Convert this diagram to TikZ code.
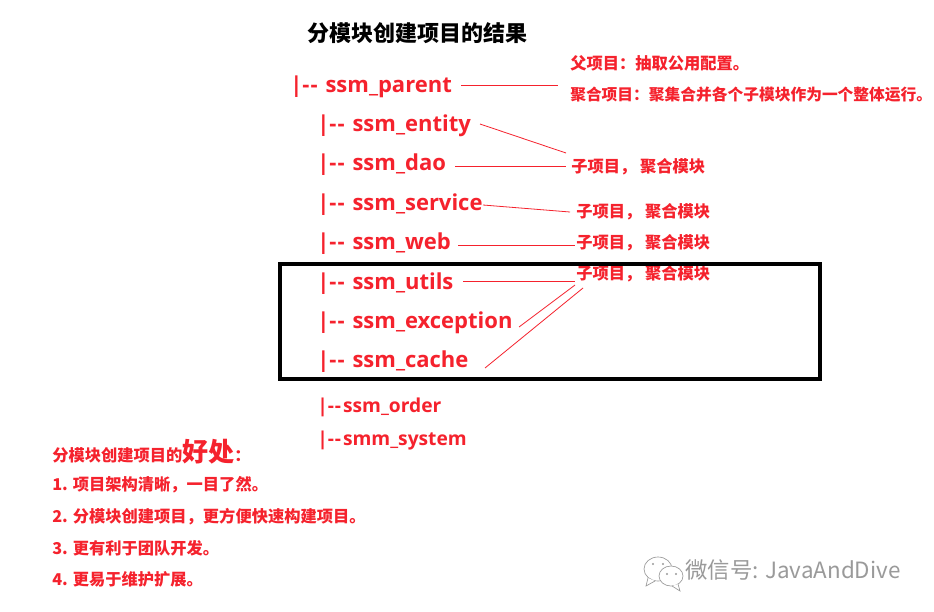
\documentclass[tikz,border=0pt]{standalone}
\usepackage{fontspec}
\setmainfont{Noto Sans}
\newfontfamily\cjk{Noto Sans CJK SC}[Ligatures=NoCommon]
\newfontfamily\tree{Open Sans}
\definecolor{redtxt}{HTML}{F5222D}
\definecolor{wm}{HTML}{9A9A9A}
\newcommand{\dd}{-\kern0.05em-\kern0.1em}
\tikzset{
  treeA/.style={anchor=west,inner sep=0pt,text=redtxt,font=\tree\fontsize{16.5}{20}\selectfont\bfseries},
  treeB/.style={anchor=west,inner sep=0pt,text=redtxt,font=\tree\fontsize{14.4}{18}\selectfont\bfseries},
  note/.style={anchor=west,inner sep=0pt,text=redtxt,font=\cjk\fontsize{12.2}{14}\selectfont\bfseries},
  heading/.style={anchor=west,inner sep=0pt,text=black,font=\cjk\fontsize{16.5}{20}\selectfont\bfseries},
  link/.style={draw=redtxt,line width=0.6pt},
  frame/.style={draw=black,line width=3.2pt},
  wmline/.style={draw=wm,line width=0.5pt,fill=white}
}
\begin{document}
\begin{tikzpicture}[x=0.75pt,y=-0.75pt]
\useasboundingbox (0,0) rectangle (934,611);
\fill[white] (0,0) rectangle (934,611);
\node[heading] (title) at (307,33) {分模块创建项目的结果};
\node[treeA] (parent) at (290,87) {|\dd\ ssm\_parent};
\node[treeA] (entity) at (317,126) {|\dd\ ssm\_entity};
\node[treeA] (dao) at (317,165) {|\dd\ ssm\_dao};
\node[treeA] (service) at (317,205) {|\dd\ ssm\_service};
\node[treeA] (web) at (317,244) {|\dd\ ssm\_web};
\node[treeA] (utils) at (317,284) {|\dd\ ssm\_utils};
\node[treeA] (exception) at (317,323) {|\dd\ ssm\_exception};
\node[treeA] (cache) at (317,362) {|\dd\ ssm\_cache};
\node[treeB] (order) at (317,407) {|\dd ssm\_order};
\node[treeB] (system) at (317,441) {|\dd smm\_system};
\node[note] (fa) at (570,63) {父项目：抽取公用配置。};
\node[note,font=\cjk\fontsize{11.8}{14}\selectfont\bfseries] (ju) at (570,95) {聚合项目：聚集合并各个子模块作为一个整体运行。};
\node[note] (c1) at (571,167) {子项目， 聚合模块};
\node[note] (c2) at (576,212) {子项目， 聚合模块};
\node[note] (c3) at (576,243) {子项目， 聚合模块};
\node[note] (c4) at (576,274) {子项目， 聚合模块};
\node[note] (h) at (52,452) {分模块创建项目的{\fontsize{19.5}{20}\selectfont 好处}：};
\node[note] (l1) at (52,485) {1. 项目架构清晰，一目了然。};
\node[note] (l2) at (52,517) {2. 分模块创建项目，更方便快速构建项目。};
\node[note] (l3) at (52,548) {3. 更有利于团队开发。};
\node[note] (l4) at (52,579) {4. 更易于维护扩展。};
\coordinate (p0) at (461,85); \coordinate (p1) at (558,85);
\coordinate (e0) at (480,124); \coordinate (e1) at (566,153);
\coordinate (d0) at (455,166); \coordinate (d1) at (566,166);
\coordinate (s0) at (483,205); \coordinate (s1) at (570,212);
\coordinate (w0) at (458,245); \coordinate (w1) at (575,245);
\coordinate (u0) at (463,281); \coordinate (u1) at (575,281);
\coordinate (x0) at (519,327); \coordinate (x1) at (575,285);
\coordinate (k0) at (485,368); \coordinate (k1) at (583,288);
\draw[link] (p0)--(p1);
\draw[link] (e0)--(e1);
\draw[link] (d0)--(d1);
\draw[link] (s0)--(s1);
\draw[link] (w0)--(w1);
\draw[link] (u0)--(u1);
\draw[link] (x0)--(x1);
\draw[link] (k0)--(k1);
\draw[frame] (280,264) rectangle (820,379);
% watermark
\draw[wmline] (658,569) ellipse (14 and 12);
\draw[wmline] (648,578)--(646,586)--(655,581);
\draw[wmline] (671,576) ellipse (12 and 10);
\draw[wmline] (678,584)--(680,591)--(672,586);
\fill[wm] (653,564) circle (1.2) (663,564) circle (1.2) (667,574) circle (1.2) (676,574) circle (1.2);
\node[anchor=west,inner sep=0pt,text=wm,font=\cjk\fontsize{16.8}{20}\selectfont] (mark) at (685,570) {微信号: JavaAndDive};
\end{tikzpicture}
\end{document}
